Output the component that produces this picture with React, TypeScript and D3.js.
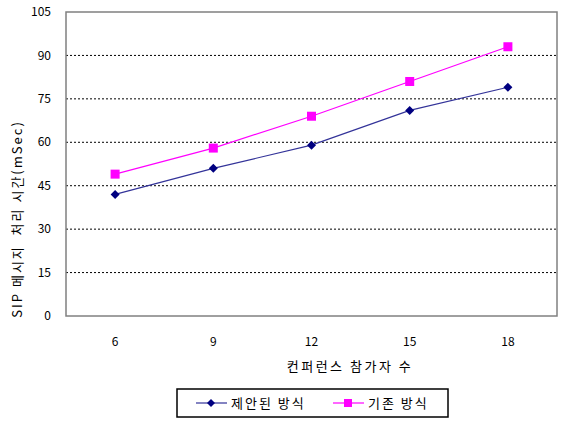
import React from "react";
import * as d3 from "d3";

// chart data
const participants = ["6", "9", "12", "15", "18"];
const proposed = [42, 51, 59, 71, 79];
const existing = [49, 58, 69, 81, 93];
const yTicks = [0, 15, 30, 45, 60, 75, 90, 105];
const seriesNames = ["제안된 방식", "기존 방식"];

const width = 563;
const height = 421;
const plot = { left: 66, right: 557, top: 12, bottom: 316 };
const font = "'Noto Sans CJK KR', 'Noto Sans', sans-serif";

export default function App() {
  const x = d3
    .scaleBand<string>()
    .domain(participants)
    .range([plot.left, plot.right]);
  const y = d3.scaleLinear().domain([0, 105]).range([plot.bottom, plot.top]);
  const cx = (c: string) => (x(c) as number) + x.bandwidth() / 2;

  const line = d3
    .line<number>()
    .x((_, i) => cx(participants[i]))
    .y((d) => y(d));

  const diamond = (px: number, py: number, r: number) =>
    `M${px},${py - r}L${px + r},${py}L${px},${py + r}L${px - r},${py}Z`;

  return (
    <svg
      width={width}
      height={height}
      style={{ position: "absolute", left: 0, top: 0, background: "#fff" }}
      fontFamily={font}
    >
      {/* gridlines */}
      {yTicks
        .filter((t) => t > 0 && t < 105)
        .map((t) => (
          <line
            key={t}
            x1={plot.left}
            x2={plot.right}
            y1={y(t)}
            y2={y(t)}
            stroke="#000"
            strokeDasharray="2,2"
            strokeWidth={1}
          />
        ))}
      <rect
        x={plot.left}
        y={plot.top}
        width={plot.right - plot.left}
        height={plot.bottom - plot.top}
        fill="none"
        stroke="#808080"
        strokeWidth={1.5}
      />

      {/* y tick labels */}
      {yTicks.map((t) => (
        <text
          key={t}
          x={plot.left - 15}
          y={y(t)}
          dy="0.35em"
          textAnchor="end"
          fontSize={12}
          fill="#000"
        >
          {t}
        </text>
      ))}

      {/* x tick labels */}
      {participants.map((c) => (
        <text
          key={c}
          x={cx(c)}
          y={342}
          dy="0.35em"
          textAnchor="middle"
          fontSize={12}
          fill="#000"
        >
          {c}
        </text>
      ))}

      <text
        x={350}
        y={366}
        dy="0.35em"
        textAnchor="middle"
        fontSize={13}
        letterSpacing={2.5}
        fill="#000"
      >
        컨퍼런스 참가자 수
      </text>
      <text
        transform={`translate(17,219) rotate(-90)`}
        dy="0.35em"
        textAnchor="middle"
        fontSize={13}
        letterSpacing={2}
        fill="#000"
        style={{ whiteSpace: "pre" }}
      >
        {"SIP 메시지  처리 시간(mSec)"}
      </text>

      {/* series */}
      <path d={line(proposed) || ""} fill="none" stroke="#333399" strokeWidth={1.2} />
      <path d={line(existing) || ""} fill="none" stroke="#FF00FF" strokeWidth={1.2} />
      {proposed.map((v, i) => (
        <path key={"p" + i} d={diamond(cx(participants[i]), y(v), 4.5)} fill="#000080" />
      ))}
      {existing.map((v, i) => (
        <rect
          key={"e" + i}
          x={cx(participants[i]) - 4.5}
          y={y(v) - 4.5}
          width={9}
          height={9}
          fill="#FF00FF"
        />
      ))}

      {/* legend */}
      <rect x={177} y={389} width={271} height={28} fill="#fff" stroke="#000" strokeWidth={1.5} />
      <line x1={196} x2={227} y1={403} y2={403} stroke="#333399" strokeWidth={1.2} />
      <path d={diamond(211, 403, 4)} fill="#000080" />
      <text x={231} y={403} dy="0.35em" fontSize={13} letterSpacing={2} fill="#000">
        {seriesNames[0]}
      </text>
      <line x1={333} x2={364} y1={403} y2={403} stroke="#FF00FF" strokeWidth={1.2} />
      <rect x={344} y={399} width={8} height={8} fill="#FF00FF" />
      <text x={368} y={403} dy="0.35em" fontSize={13} letterSpacing={2} fill="#000">
        {seriesNames[1]}
      </text>
    </svg>
  );
}
